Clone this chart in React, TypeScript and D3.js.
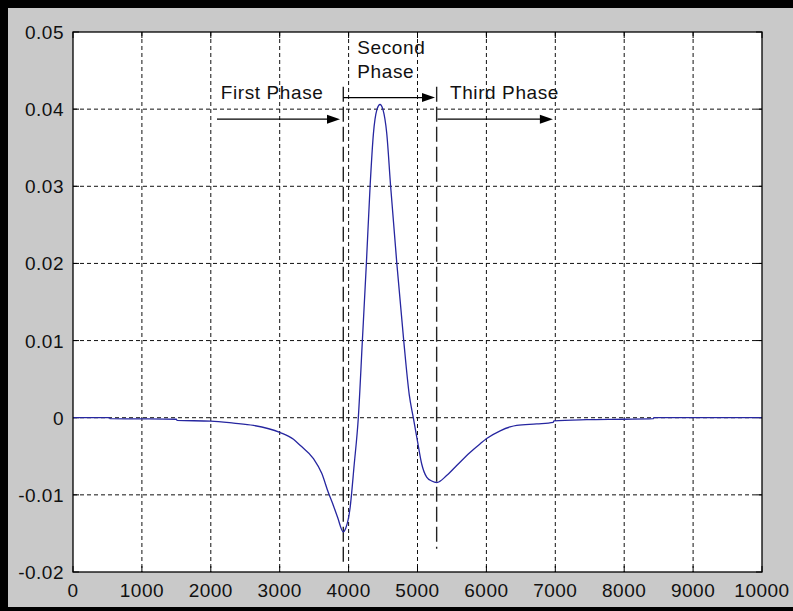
import React from "react";
import * as d3 from "d3";

const xData = [0, 530, 540, 1000, 1500, 1510, 2000, 2330, 2620, 3000, 3200, 3300, 3490, 3610, 3706, 3780, 3840, 3923, 3960, 4020, 4080, 4141, 4200, 4258, 4312, 4360, 4410, 4456, 4500, 4553, 4610, 4700, 4800, 4880, 4939, 4997, 5061, 5133, 5206, 5280, 5422, 5569, 5762, 5907, 6004, 6200, 6343, 6440, 6730, 6970, 6980, 7456, 8000, 8420, 8430, 10000];
const yData = [0, 0, -0.00013, -0.00015, -0.0002, -0.00035, -0.00044, -0.0007, -0.001, -0.0019, -0.0028, -0.0036, -0.0053, -0.0072, -0.0097, -0.0114, -0.0129, -0.0148, -0.0143, -0.0118, -0.0062, 0.0, 0.01, 0.02, 0.03, 0.0368, 0.0399, 0.0406, 0.0399, 0.0369, 0.03, 0.02, 0.01, 0.003, 0.0, -0.0029, -0.006, -0.0077, -0.0082, -0.0084, -0.0075, -0.0062, -0.0045, -0.0034, -0.0027, -0.0017, -0.0012, -0.001, -0.0008, -0.0006, -0.0004, -0.00026, -0.0002, -0.00013, 0, 0];

const xTicks = [0, 1000, 2000, 3000, 4000, 5000, 6000, 7000, 8000, 9000, 10000];
const yTicks = [-0.02, -0.01, 0, 0.01, 0.02, 0.03, 0.04, 0.05];
const yTickLabels = ["-0.02", "-0.01", "0", "0.01", "0.02", "0.03", "0.04", "0.05"];

// phase boundaries (x, top y, bottom y)
const boundaryX = [3923, 5278];
const boundaryTop = [0.0429, 0.0429];
const boundaryBottom = [-0.0192, -0.017];

// arrows: x1, x2, y
const arrowX1 = [2090, 3923, 5290];
const arrowX2 = [3875, 5254, 6965];
const arrowY = [0.0387, 0.0415, 0.0387];

// labels
const labelText = ["First Phase", "Second", "Phase", "Third Phase"];
const labelX = [2144, 4126, 4126, 5471];
const labelY = [0.0413, 0.0471, 0.0441, 0.0413];

const W = 793;
const H = 611;
const L = 73, R = 762, T = 32, B = 572;
const FONT = "'Liberation Sans', Arial, sans-serif";

export default function App() {
  const x = d3.scaleLinear().domain([0, 10000]).range([L, R]);
  const y = d3.scaleLinear().domain([-0.02, 0.05]).range([B, T]);
  const pts = xData.map((v, i) => [v, yData[i]] as [number, number]);
  const line = d3.line<[number, number]>().x(d => x(d[0])).y(d => y(d[1])).curve(d3.curveMonotoneX);

  return (
    <svg width={W} height={H} style={{ position: "absolute", left: 0, top: 0 }}>
      <rect x={0} y={0} width={W} height={H} fill="#c9c9c9" />
      <rect x={0} y={0} width={W} height={8} fill="#000" />
      <rect x={0} y={0} width={8} height={H} fill="#000" />
      <rect x={0} y={607} width={W} height={4} fill="#000" />
      <rect x={L} y={T} width={R - L} height={B - T} fill="#fff" />
      {/* grid */}
      {xTicks.slice(1, -1).map(t => (
        <line key={"gx" + t} x1={x(t)} x2={x(t)} y1={T} y2={B} stroke="#111" strokeWidth={1} strokeDasharray="4 3" />
      ))}
      {yTicks.slice(1, -1).map(t => (
        <line key={"gy" + t} x1={L} x2={R} y1={y(t)} y2={y(t)} stroke="#111" strokeWidth={1} strokeDasharray="4 3" />
      ))}
      {/* ticks */}
      {xTicks.map(t => (
        <g key={"tx" + t}>
          <line x1={x(t)} x2={x(t)} y1={B} y2={B - 6} stroke="#000" />
          <line x1={x(t)} x2={x(t)} y1={T} y2={T + 6} stroke="#000" />
        </g>
      ))}
      {yTicks.map(t => (
        <g key={"ty" + t}>
          <line x1={L} x2={L + 6} y1={y(t)} y2={y(t)} stroke="#000" />
          <line x1={R} x2={R - 6} y1={y(t)} y2={y(t)} stroke="#000" />
        </g>
      ))}
      {/* boundaries */}
      {boundaryX.map((b, i) => (
        <line key={"b" + i} x1={x(b)} x2={x(b)} y1={y(boundaryTop[i])} y2={y(boundaryBottom[i])} stroke="#222" strokeWidth={1.4} strokeDasharray="15 5" />
      ))}
      {/* curve */}
      <path d={line(pts) || ""} fill="none" stroke="#2626a0" strokeWidth={1.3} />
      {/* arrows */}
      {arrowX1.map((a, i) => {
        const x1 = x(a), x2 = x(arrowX2[i]), yy = y(arrowY[i]);
        return (
          <g key={"a" + i}>
            <line x1={x1} x2={x2 - 10} y1={yy} y2={yy} stroke="#000" strokeWidth={1.3} />
            <path d={`M${x2},${yy} L${x2 - 13},${yy - 4.5} L${x2 - 13},${yy + 4.5} Z`} fill="#000" />
          </g>
        );
      })}
      {/* labels */}
      {labelText.map((s, i) => (
        <text key={"l" + i} x={x(labelX[i])} y={y(labelY[i])} fontFamily={FONT} fontSize={19} letterSpacing={0.6} fill="#111">{s}</text>
      ))}
      {/* axes box */}
      <rect x={L} y={T} width={R - L} height={B - T} fill="none" stroke="#000" strokeWidth={1.3} />
      {/* tick labels */}
      {xTicks.map(t => (
        <text key={"xl" + t} x={x(t)} y={B + 25} textAnchor="middle" fontFamily={FONT} fontSize={19} letterSpacing={0.5} fill="#111">{t}</text>
      ))}
      {yTicks.map((t, i) => (
        <text key={"yl" + t} x={L - 9} y={y(t) + 7} textAnchor="end" fontFamily={FONT} fontSize={19} letterSpacing={0.5} fill="#111">{yTickLabels[i]}</text>
      ))}
    </svg>
  );
}
